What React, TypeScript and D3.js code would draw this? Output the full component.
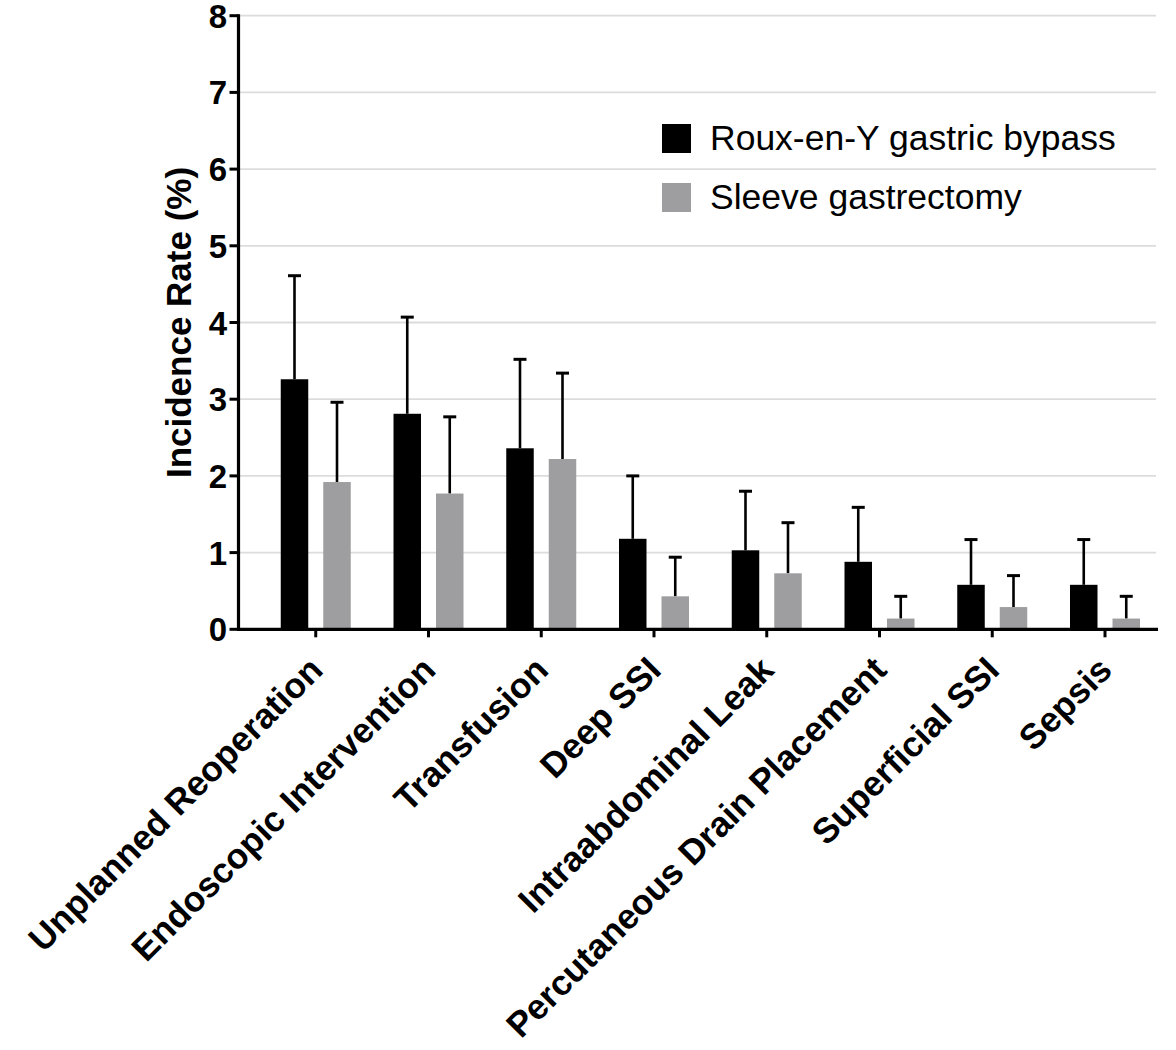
import React from "react";
import * as d3 from "d3";

// Complication categories along the x axis
const categories = [
  "Unplanned Reoperation",
  "Endoscopic Intervention",
  "Transfusion",
  "Deep SSI",
  "Intraabdominal Leak",
  "Percutaneous Drain Placement",
  "Superficial SSI",
  "Sepsis",
];

// Series names
const seriesNames = ["Roux-en-Y gastric bypass", "Sleeve gastrectomy"];

// Incidence rate (%) and upper error (%) per category
const rygbValues = [3.26, 2.81, 2.36, 1.18, 1.03, 0.88, 0.58, 0.58];
const rygbErrors = [1.35, 1.26, 1.16, 0.82, 0.77, 0.71, 0.59, 0.59];
const sleeveValues = [1.92, 1.77, 2.22, 0.43, 0.73, 0.14, 0.29, 0.14];
const sleeveErrors = [1.04, 1.0, 1.12, 0.51, 0.66, 0.29, 0.41, 0.29];

// Y axis ticks
const yTicks = [0, 1, 2, 3, 4, 5, 6, 7, 8];

const W = 1176;
const H = 1050;
const FONT = "'Liberation Sans', Arial, Helvetica, sans-serif";
const GREY = "#9e9ea0";

export default function App() {
  const axisLeft = 238.5;
  const axisRight = 1158;
  const y = d3.scaleLinear().domain([0, 8]).range([629.3, 15.7]);
  const x = d3
    .scalePoint<string>()
    .domain(categories)
    .range([315.75, 1105]);
  const sub = d3
    .scaleBand<string>()
    .domain(["rygb", "sleeve"])
    .range([-35, 35])
    .paddingInner(0.353)
    .paddingOuter(0);
  const bw = sub.bandwidth();

  const series = [
    { key: "rygb", values: rygbValues, errors: rygbErrors, color: "#000000" },
    { key: "sleeve", values: sleeveValues, errors: sleeveErrors, color: GREY },
  ];

  const capHalf = 6.5;

  return (
    <svg
      width={W}
      height={H}
      viewBox={`0 0 ${W} ${H}`}
      style={{ position: "absolute", left: 0, top: 0, background: "#fff" }}
    >
      <rect x={0} y={0} width={W} height={H} fill="#fff" />

      {/* horizontal gridlines */}
      {yTicks
        .filter((t) => t > 0)
        .map((t) => (
          <line
            key={`g${t}`}
            x1={axisLeft}
            x2={axisRight - 2}
            y1={y(t)}
            y2={y(t)}
            stroke="#dcdcdc"
            strokeWidth={1.8}
          />
        ))}

      {/* bars and error bars */}
      {series.map((s) =>
        categories.map((c, i) => {
          const cx = (x(c) as number) + (sub(s.key) as number);
          const top = y(s.values[i]);
          const errTop = y(s.values[i] + s.errors[i]);
          const mid = cx + bw / 2;
          return (
            <g key={`${s.key}-${c}`}>
              <line
                x1={mid}
                x2={mid}
                y1={top}
                y2={errTop}
                stroke="#000"
                strokeWidth={2.6}
              />
              <line
                x1={mid - capHalf}
                x2={mid + capHalf}
                y1={errTop}
                y2={errTop}
                stroke="#000"
                strokeWidth={3}
              />
              <rect
                x={cx}
                y={top}
                width={bw}
                height={y(0) - top}
                fill={s.color}
              />
            </g>
          );
        })
      )}

      {/* y axis */}
      <line
        x1={axisLeft}
        x2={axisLeft}
        y1={y(8) - 1.5}
        y2={y(0) + 1.5}
        stroke="#000"
        strokeWidth={3.2}
      />
      {yTicks.map((t) => (
        <g key={`yt${t}`}>
          <line
            x1={axisLeft - 9}
            x2={axisLeft}
            y1={y(t)}
            y2={y(t)}
            stroke="#000"
            strokeWidth={3}
          />
          <text
            x={227}
            y={y(t) + 12}
            textAnchor="end"
            fontFamily={FONT}
            fontWeight="bold"
            fontSize={33}
            fill="#000"
          >
            {t}
          </text>
        </g>
      ))}

      {/* x axis */}
      <line
        x1={axisLeft - 1.5}
        x2={axisRight}
        y1={y(0)}
        y2={y(0)}
        stroke="#000"
        strokeWidth={3.2}
      />
      {categories.map((c) => {
        const cx = x(c) as number;
        return (
          <g key={`xt${c}`}>
            <line
              x1={cx}
              x2={cx}
              y1={y(0)}
              y2={y(0) + 8}
              stroke="#000"
              strokeWidth={3}
            />
            <text
              transform={`translate(${cx + 9},${672}) rotate(-45)`}
              textAnchor="end"
              fontFamily={FONT}
              fontWeight="bold"
              fontSize={35.3}
              fill="#000"
            >
              {c}
            </text>
          </g>
        );
      })}

      {/* y axis title */}
      <text
        transform={`translate(191,${(y(0) + y(8)) / 2}) rotate(-90)`}
        textAnchor="middle"
        fontFamily={FONT}
        fontWeight="bold"
        fontSize={35}
        fill="#000"
      >
        Incidence Rate (%)
      </text>

      {/* legend */}
      {seriesNames.map((name, i) => (
        <g key={name} transform={`translate(662,${124 + i * 59})`}>
          <rect
            x={0}
            y={0}
            width={29}
            height={29}
            fill={i === 0 ? "#000" : GREY}
          />
          <text
            x={48}
            y={26}
            fontFamily={FONT}
            fontSize={35.5}
            fill="#000"
          >
            {name}
          </text>
        </g>
      ))}
    </svg>
  );
}
